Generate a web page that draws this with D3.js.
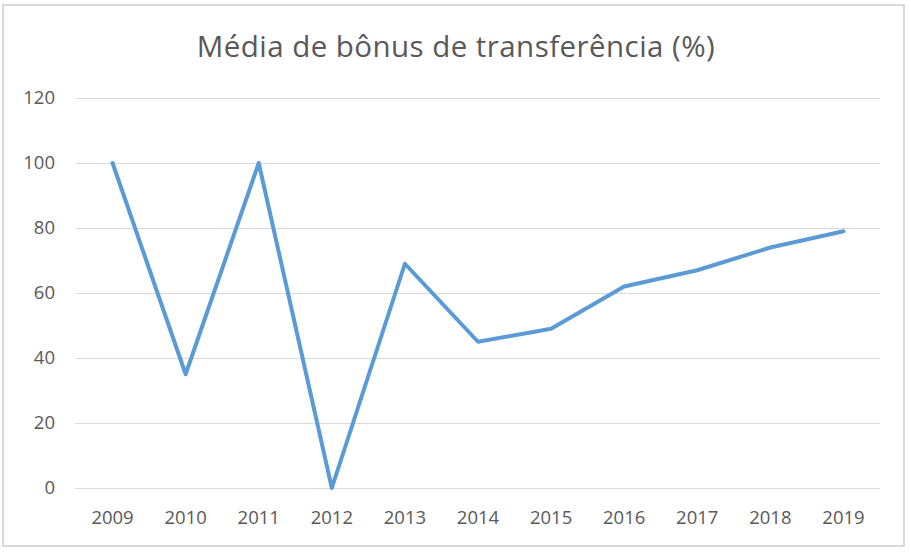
<!DOCTYPE html>
<html>
<head>
<meta charset="utf-8">
<script src="https://cdn.jsdelivr.net/npm/d3@7"></script>
<style>
  html, body { margin: 0; padding: 0; background: #fff; }
  svg { display: block; }
</style>
</head>
<body>
<svg id="chart" width="911" height="552"></svg>
<script>
const titleText = "Média de bônus de transferência (%)";
const years = ["2009","2010","2011","2012","2013","2014","2015","2016","2017","2018","2019"];
const values = [100, 35, 100, 0, 69, 45, 49, 62, 67, 74, 79];
const yTicks = [0, 20, 40, 60, 80, 100, 120];

const W = 911, H = 552;
const margin = { left: 76, right: 31, top: 98, bottom: 64 };
const font = "'Open Sans', 'Noto Sans', sans-serif";
const textColor = "#595959";

const svg = d3.select("#chart");

svg.append("rect")
  .attr("x", 3).attr("y", 5)
  .attr("width", 901).attr("height", 541)
  .attr("fill", "#fff")
  .attr("stroke", "#d9d9d9")
  .attr("stroke-width", 2);

const x = d3.scaleBand().domain(years).range([margin.left, W - margin.right]);
const y = d3.scaleLinear().domain([0, 120]).range([H - margin.bottom, margin.top]);

// title
svg.append("text")
  .attr("x", 456).attr("y", 57)
  .attr("text-anchor", "middle")
  .attr("font-family", font)
  .attr("font-size", 29.5)
  .attr("letter-spacing", 0.45)
  .attr("fill", textColor)
  .text(titleText);

// gridlines
svg.append("g").selectAll("line")
  .data(yTicks).join("line")
  .attr("x1", margin.left - 1).attr("x2", W - margin.right)
  .attr("y1", d => Math.round(y(d)) + 0.5).attr("y2", d => Math.round(y(d)) + 0.5)
  .attr("stroke", "#d9d9d9").attr("stroke-width", 1);

// y axis labels
const yAxis = d3.axisLeft(y).tickValues(yTicks).tickSize(0).tickPadding(21);
const gy = svg.append("g").attr("transform", `translate(${margin.left},0)`).call(yAxis);
gy.select(".domain").remove();
gy.selectAll("text")
  .attr("font-family", font).attr("font-size", 18.5).attr("fill", textColor);

// x axis labels
const xAxis = d3.axisBottom(x).tickSize(0).tickPadding(23);
const gx = svg.append("g").attr("transform", `translate(0,${y(0)})`).call(xAxis);
gx.select(".domain").remove();
gx.selectAll("text")
  .attr("font-family", font).attr("font-size", 18.5).attr("fill", textColor);

// line
const line = d3.line()
  .x((d, i) => x(years[i]) + x.bandwidth() / 2)
  .y(d => y(d));

svg.append("path")
  .datum(values)
  .attr("d", line)
  .attr("fill", "none")
  .attr("stroke", "#5B9BD5")
  .attr("stroke-width", 4)
  .attr("stroke-linejoin", "round")
  .attr("stroke-linecap", "round");
</script>
</body>
</html>
